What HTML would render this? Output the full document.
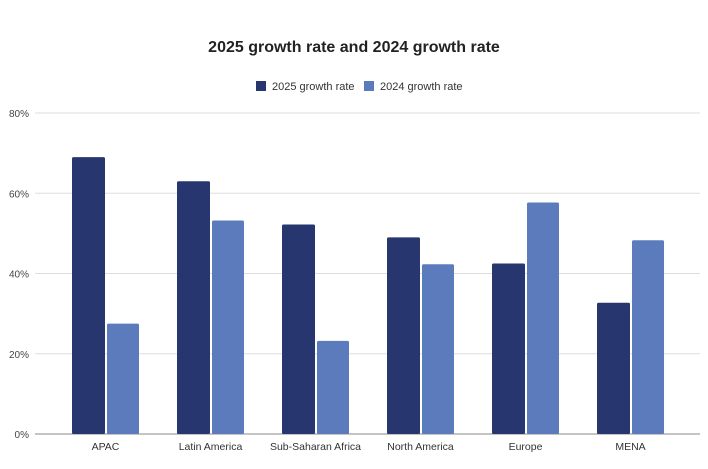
<!DOCTYPE html>
<html><head><meta charset="utf-8"><style>
body{margin:0;background:#fff;font-family:"Liberation Sans",sans-serif;}
</style></head><body>
<svg id="chart" width="708" height="464" xmlns="http://www.w3.org/2000/svg">
<text x="354" y="52" text-anchor="middle" font-size="16" font-weight="bold" fill="#222">2025 growth rate and 2024 growth rate</text>
<g>
<rect x="256" y="81" width="10" height="10" fill="#27366e"/>
<text x="272" y="90" font-size="11" fill="#333">2025 growth rate</text>
<rect x="364" y="81" width="10" height="10" fill="#5c7bbd"/>
<text x="380" y="90" font-size="11" fill="#333">2024 growth rate</text>
</g>
<g id="grid"></g><g id="bars"></g><g id="labels"></g>
</svg>
<script>
const categories=["APAC","Latin America","Sub-Saharan Africa","North America","Europe","MENA"];
const growth2025=[69,63,52.2,49,42.5,32.7];
const growth2024=[27.5,53.2,23.2,42.3,57.7,48.3];
const ticks=[0,20,40,60,80];
const NS="http://www.w3.org/2000/svg";
const y0=434,y1=113,vmax=80;
const y=v=>y0-(v/vmax)*(y0-y1);
const band=105,left=53;
const bx=i=>left+i*band;
function mk(t,a,p){const e=document.createElementNS(NS,t);for(const k in a)e.setAttribute(k,a[k]);p.appendChild(e);return e;}
const grid=document.getElementById('grid'),bars=document.getElementById('bars'),labels=document.getElementById('labels');
ticks.forEach(t=>{
 const l=mk('line',{x1:35,x2:700,y1:y(t),y2:y(t),stroke:t===0?'#888':'#ddd','stroke-width':1},grid);
 
 
 const tx=mk('text',{x:29,y:y(t)+4,'text-anchor':'end','font-size':10,fill:'#444'},grid);
 tx.textContent=t+'%';
 
 
});
categories.forEach((c,i)=>{
 const c0=bx(i)+band/2;
 const a=mk('rect',{x:c0-33.5,y:y(growth2025[i]),width:33,height:y0-y(growth2025[i]),fill:'#27366e',rx:1.5},bars);
 
 
 const b=mk('rect',{x:c0+1.5,y:y(growth2024[i]),width:32,height:y0-y(growth2024[i]),fill:'#5c7bbd',rx:1.5},bars);
 
 
 const t=mk('text',{x:c0,y:450,'text-anchor':'middle','font-size':10.5,fill:'#333'},labels);
 t.textContent=c;
 
 
});
</script>
</body></html>
